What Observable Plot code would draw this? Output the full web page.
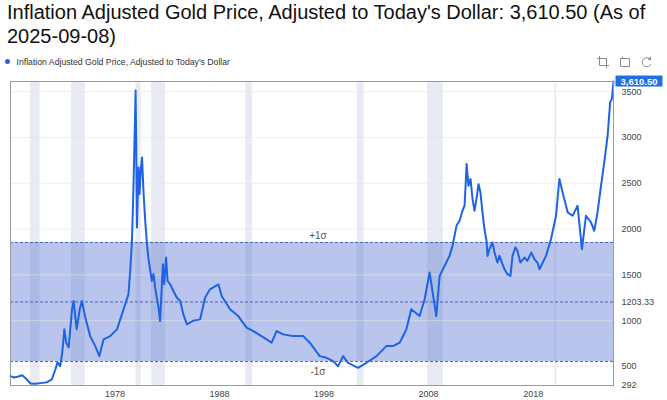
<!DOCTYPE html>
<html><head><meta charset="utf-8">
<script src="https://cdn.jsdelivr.net/npm/d3@7"></script>
<script src="https://cdn.jsdelivr.net/npm/@observablehq/plot@0.6"></script>
<style>
body{margin:0;background:#fff;font-family:"Liberation Sans",Arial,sans-serif;}
#wrap{position:relative;width:667px;height:400px;overflow:hidden;background:#fff;}
#title{position:absolute;left:7px;top:1px;font-size:20px;line-height:23.5px;color:#111;white-space:nowrap;}
#legend{position:absolute;left:5px;top:56.5px;font-size:8.7px;line-height:10px;color:#333;display:flex;align-items:center;white-space:nowrap;}
#legend .dot{width:5px;height:5px;border-radius:50%;background:#2a62d8;margin-right:6.5px;}
#tools{position:absolute;left:596px;top:55px;}
#chart{position:absolute;left:0;top:70px;}
</style></head>
<body><div id="wrap">
<div id="title">Inflation Adjusted Gold Price, Adjusted to Today's Dollar: 3,610.50 (As of<br>2025-09-08)</div>
<div id="legend"><span class="dot"></span>Inflation Adjusted Gold Price, Adjusted to Today's Dollar</div>
<svg id="tools" width="60" height="14" fill="none" stroke="#8a8a8a" stroke-width="1">
  <path d="M3.5 1V10.5H13M1 3.5H10.5V13"/>
  <path d="M24 3.5H33.5V11.5H24.5V3.5M26.5 1.5V3.5"/>
  <path d="M54.5 4.5A4.5 4.5 0 1 0 55 9M54.5 2V4.5H52"/>
</svg>
<div id="chart"></div>
</div>
<script>
const dates = [
"1968-01-01","1968-05-01","1968-10-01","1969-02-15","1969-06-01","1969-12-01","1970-05-15","1970-11-15",
"1971-07-01","1971-12-15","1972-04-15","1972-07-01","1972-10-01","1972-12-15","1973-02-25","1973-05-01",
"1973-07-25","1973-11-20","1974-01-15","1974-05-01","1974-08-15","1974-11-01","1975-02-25","1975-08-15",
"1976-02-10","1976-07-01","1976-11-25","1977-07-15","1978-03-10","1978-10-25","1979-04-15","1979-06-15",
"1979-08-15","1979-10-10","1979-12-20","1980-01-10","1980-02-05","1980-04-01","1980-05-05","1980-06-25",
"1980-08-01","1980-09-25","1980-11-20","1981-01-20","1981-03-10","1981-05-15","1981-07-10","1981-09-05",
"1981-11-01","1982-01-01","1982-02-28","1982-04-25","1982-06-25","1982-08-01","1982-09-15","1982-11-20",
"1983-01-10","1983-04-10","1983-08-01","1983-11-28","1984-03-25","1984-07-15","1984-11-15","1985-07-01",
"1986-02-20","1986-08-15","1987-02-01","1987-11-20","1988-03-15","1989-01-01","1989-10-15","1990-08-01",
"1991-03-25","1992-07-05","1992-12-25","1993-06-15","1994-02-01","1995-01-20","1996-01-01","1996-08-20",
"1997-08-01","1998-03-25","1998-11-10","1999-05-05","1999-10-25","2000-04-20","2001-04-01","2002-01-20",
"2003-01-05","2003-12-15","2004-08-01","2005-03-25","2005-11-15","2006-05-05","2007-02-20","2007-08-15",
"2008-02-05","2008-09-25","2009-01-20","2009-07-10","2010-01-01","2010-04-15","2010-09-01","2010-12-15",
"2011-04-01","2011-06-10","2011-07-10","2011-08-20","2011-10-25","2012-01-05","2012-03-15","2012-05-20",
"2012-07-30","2012-10-10","2012-12-15","2013-02-25","2013-05-05","2013-07-15","2013-08-20","2013-10-25",
"2014-02-10","2014-04-20","2014-08-01","2014-10-10","2015-01-25","2015-04-05","2015-07-15","2015-10-30",
"2016-01-10","2016-04-20","2016-07-01","2016-10-10","2017-02-28","2017-06-10","2017-10-30","2018-02-15",
"2018-05-30","2018-08-10","2019-03-25","2019-09-15","2020-03-10","2020-07-05","2020-10-25","2021-04-20",
"2021-10-10","2022-04-01","2022-09-01","2023-01-20","2023-07-15","2023-11-05","2024-02-28","2024-06-28",
"2024-10-20","2025-02-15","2025-05-15","2025-07-15","2025-09-08"];
const prices = [
394,380,390,404,375,314,310,318,
328,358,467,544,503,653,905,762,
708,1124,1214,905,1124,1214,1036,831,
722,613,795,831,905,1124,1288,1543,
1870,2490,3512,2930,2017,2673,2382,2673,
2782,2382,2090,1835,1689,1543,1434,1507,
1360,1252,1142,996,1397,1616,1397,1689,
1434,1397,1324,1252,1215,1069,960,1000,
1014,1252,1342,1397,1269,1124,1050,923,
886,795,759,886,850,831,831,759,
613,594,558,503,613,540,485,540,
613,722,722,759,905,1124,1050,1233,
1525,1050,1488,1597,1707,1816,2035,2090,
2200,2255,2436,2710,2472,2546,2327,2200,
2327,2490,2400,2182,2000,1870,1707,1780,
1853,1743,1634,1707,1616,1561,1507,1488,
1707,1800,1762,1634,1689,1652,1743,1670,
1634,1561,1707,1889,2145,2546,2400,2182,
2145,2255,1780,2145,2072,1980,2182,2472,
2728,3020,3385,3421,3610.5];
const recessionStart = ["1969-12-01","1973-11-01","1980-01-01","1981-07-01","1990-07-01","2001-03-01","2007-12-01","2020-02-01"];
const recessionEnd   = ["1970-11-01","1975-03-01","1980-07-01","1982-11-01","1991-03-01","2001-11-01","2009-06-01","2020-04-01"];
const meanValue = 1203.33;
const sigmaValue = 650;
const yMin = 292;
const yTicks = [292, 500, 1000, 1203.33, 1500, 2000, 2500, 3000, 3500];
const gridValues = [500, 1000, 1500, 2000, 2500, 3000, 3500];
const xTickYears = ["1978","1988","1998","2008","2018"];
const sigmaLabelDate = "1997-06-01";
const latestLabel = "3,610.50";

const parse = d3.utcParse("%Y-%m-%d");
const series = dates.map((d, i) => ({date: parse(d), price: prices[i]}));
const recessions = recessionStart.map((s, i) => ({start: parse(s), end: parse(recessionEnd[i])}));
const band = [{lo: meanValue - sigmaValue, hi: meanValue + sigmaValue}];
const sigmaLines = [meanValue - sigmaValue, meanValue, meanValue + sigmaValue];
const last = series[series.length - 1];
const xTicks = xTickYears.map(y => d3.utcParse("%Y")(y));

const chart = Plot.plot({
  width: 667, height: 330,
  marginLeft: 10, marginRight: 54, marginTop: 11, marginBottom: 15,
  x: {type: "utc", domain: [series[0].date, last.date]},
  y: {domain: [yMin, last.price]},
  style: {fontFamily: "'Liberation Sans', Arial, sans-serif", fontSize: "9px", color: "#444", background: "#fff", overflow: "visible"},
  marks: [
    Plot.rect(recessions, {x1: "start", x2: "end", fill: "rgb(150,165,195)", fillOpacity: 0.22}),
    Plot.rect(band, {y1: "lo", y2: "hi", fill: "rgb(80,110,210)", fillOpacity: 0.4}),
    Plot.gridY(gridValues, {stroke: "#e2e4ea", strokeOpacity: 0.6}),
    Plot.ruleY(sigmaLines, {stroke: "#4a64b8", strokeDasharray: "3,2", strokeWidth: 1}),
    Plot.line(series, {x: "date", y: "price", stroke: "#1e63e3", strokeWidth: 2}),
    Plot.text([{date: parse(sigmaLabelDate), value: meanValue + sigmaValue}], {x: "date", y: "value", text: () => "+1σ", dy: -7, fontSize: 10, fill: "#555"}),
    Plot.text([{date: parse(sigmaLabelDate), value: meanValue - sigmaValue}], {x: "date", y: "value", text: () => "-1σ", dy: 10, fontSize: 10, fill: "#555"}),
    Plot.frame({stroke: "#9a9a9a"}),
    Plot.axisX(xTicks, {tickSize: 0, tickPadding: 5, tickFormat: d3.utcFormat("%Y")}),
    Plot.axisY(yTicks, {anchor: "right", tickSize: 0, tickPadding: 8, tickFormat: d => String(d)}),
    Plot.text([last], {x: "date", y: "price", text: () => latestLabel, dx: 25.5, fill: "white", fontWeight: "bold", fontSize: 9.5, className: "last-label"})
  ]
});
document.getElementById("chart").append(chart);
const g = chart.querySelector("g.last-label");
if (g) {
  const t = g.querySelector("text");
  const bb = t.getBBox();
  const r = document.createElementNS("http://www.w3.org/2000/svg", "rect");
  r.setAttribute("x", bb.x - 5);
  r.setAttribute("y", bb.y);
  r.setAttribute("width", bb.width + 10);
  r.setAttribute("height", bb.height);
  r.setAttribute("fill", "#1f6fe0");
  if (t.getAttribute("transform")) r.setAttribute("transform", t.getAttribute("transform"));
  g.insertBefore(r, t);
}
</script>
</body></html>
